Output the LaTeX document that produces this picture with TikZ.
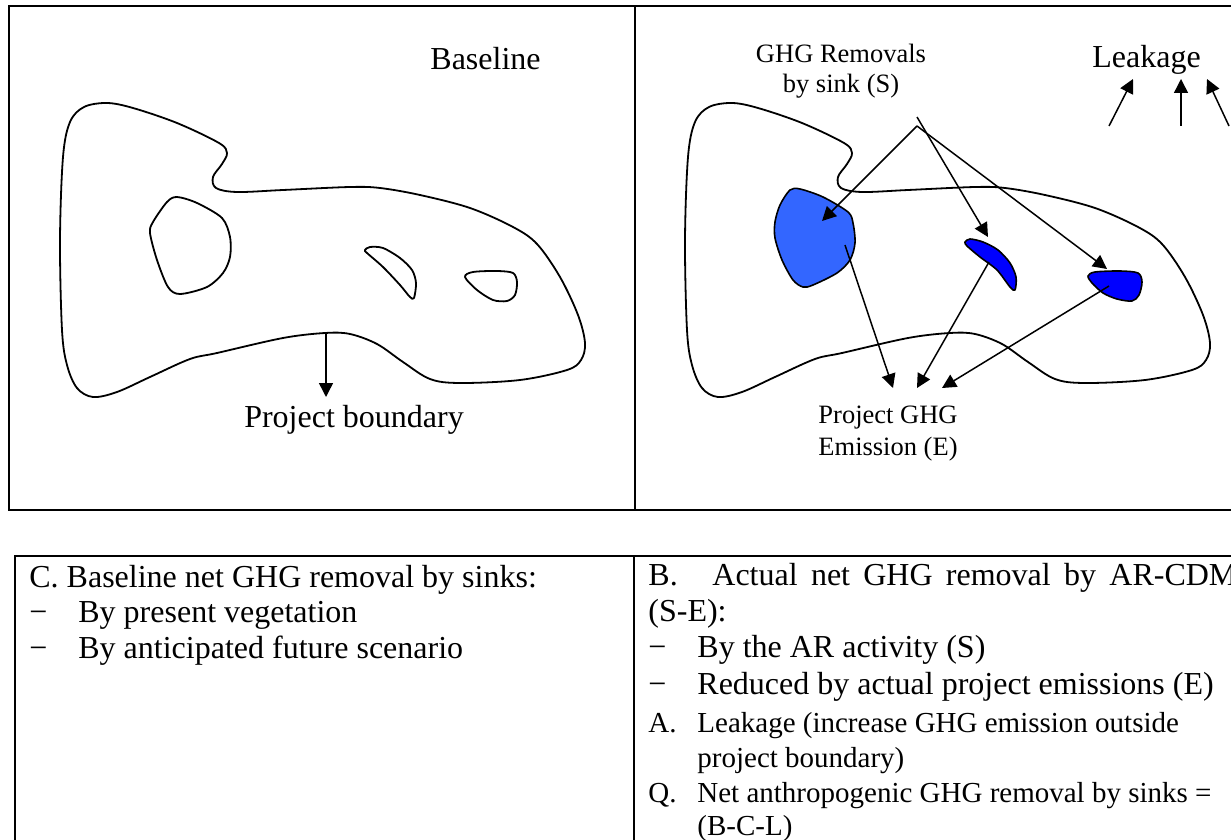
\documentclass[tikz,border=0pt]{standalone}
\usepackage{fontspec}
\setmainfont{Liberation Serif}
\usetikzlibrary{arrows.meta}

\begin{document}
\begin{tikzpicture}[
		x=0.5pt, y=-0.5pt,
		frame/.style={line width=0.9pt},
		contour/.style={line width=0.9pt, line join=round},
		patch/.style={draw, line width=0.8pt, line join=round},
		flow/.style={line width=0.75pt, -{Triangle[length=7pt,width=7pt]}},
		bigtext/.style={inner sep=0pt, anchor=base, font=\fontsize{16}{19}\selectfont},
		smalltext/.style={inner sep=0pt, anchor=base, font=\fontsize{13.25}{15}\selectfont},
		listtext/.style={inner sep=0pt, anchor=base west, font=\fontsize{14.5}{17}\selectfont},
		boundary/.pic={
			\draw[contour] plot[smooth cycle, tension=0.55] coordinates {
				(107,103) (133,108) (177,123) (219,143) (227,153) (222,164) (213,177)
				(216,188) (237,192) (283,190) (350,187) (380,188) (420,195) (470,208)
				(513,227) (537,244) (560,277) (578,315) (585,343) (581,360) (567,370)
				(520,380) (460,383) (430,379) (403,362) (377,344) (350,334) (325,333)
				(283,338) (217,353) (190,359) (150,377) (117,392) (93,397) (77,388)
				(67,365) (62,330) (60,240) (63,157) (70,122) (84,107)};
		},
	]
		\useasboundingbox (0,0) rectangle (1231,840);
		\clip (0,0) rectangle (1231,840);

		% frames
		\draw[frame] (1250,6) -- (9,6) -- (9,510) -- (1250,510);
		\draw[frame] (635,6) -- (635,510);
		\draw[frame] (1250,556) -- (15,556) -- (15,860);
		\draw[frame] (634,556) -- (634,860);

		% baseline panel
		\pic at (0,0) {boundary};
		\draw[contour] plot[smooth cycle] coordinates {
			(177,197) (197,203) (222,218) (230,237) (230,257) (223,273) (207,287)
			(180,294) (168,287) (157,260) (150,233) (153,222) (167,202)};
		\draw[contour] plot[smooth cycle, tension=0.5] coordinates {
			(365,250) (370,247) (383,248) (400,258) (412,270) (416,283) (414,298)
			(410,297) (400,285) (383,267) (367,253)};
		\draw[contour] plot[smooth cycle] coordinates {
			(465,277) (473,272) (497,271) (513,273) (517,282) (515,295) (507,301)
			(493,300) (477,290)};

		\node (baseline) [bigtext, anchor=base west] at (430,70) {Baseline};
		\node (boundary) [bigtext] at (354,427) {Project boundary};
		\coordinate (edge) at (326,333);
		\coordinate (edgeend) at (326,397);
		\draw[flow] (edge) -- (edgeend);

		% project panel
		\pic at (625,0) {boundary};
		\draw[patch, fill={rgb,255:red,51;green,102;blue,255}] plot[smooth cycle] coordinates {
			(790,190) (800,189) (823,197) (848,212) (853,223) (855,243) (850,260)
			(837,273) (813,285) (803,287) (793,280) (782,260) (775,238) (775,222) (780,205)};
		\draw[patch, fill={rgb,255:red,0;green,0;blue,255}] plot[smooth cycle, tension=0.5] coordinates {
			(965,242) (970,239) (983,242) (998,250) (1010,263) (1016,277) (1015,290)
			(1010,287) (997,270) (980,257) (967,246)};
		\draw[patch, fill={rgb,255:red,0;green,0;blue,255}] plot[smooth cycle] coordinates {
			(1088,276) (1095,272) (1120,271) (1138,273) (1142,282) (1139,295) (1132,301)
			(1117,299) (1103,293) (1092,283)};

		\node (removals) [smalltext] at (841,63) {GHG Removals};
		\node (removals2) [smalltext] at (841,93) {by sink (S)};
		\node (emission) [smalltext] at (888,423) {Project GHG};
		\node (emission2) [smalltext] at (888,455) {Emission (E)};
		\node (leakage) [bigtext, anchor=base west] at (1092,68) {Leakage};

		\coordinate (fork) at (917,126);
		\coordinate (forktop) at (917,117);
		\coordinate (sinka) at (822,221);
		\coordinate (sinkb) at (988,237);
		\coordinate (sinkc) at (1107,269);
		\draw[flow] (fork) -- (sinka);
		\draw[flow] (forktop) -- (sinkb);
		\draw[flow] (fork) -- (sinkc);

		\coordinate (srca) at (845,245);
		\coordinate (srcb) at (989,262);
		\coordinate (srcc) at (1109,286);
		\coordinate (emita) at (893,388);
		\coordinate (emitb) at (917,388);
		\coordinate (emitc) at (942,388);
		\draw[flow] (srca) -- (emita);
		\draw[flow] (srcb) -- (emitb);
		\draw[flow] (srcc) -- (emitc);

		\coordinate (leaka) at (1109,126);
		\coordinate (leakb) at (1181,126);
		\coordinate (leakc) at (1229,126);
		\draw[flow] (leaka) -- (1133,79);
		\draw[flow] (leakb) -- (1181,79);
		\draw[flow] (leakc) -- (1207,79);

		% table below
		\node (ctitle) [bigtext, anchor=base west] at (29,587) {C. Baseline net GHG removal by sinks:};
		\node (cdash) [bigtext, anchor=base west] at (29,622) {−};
		\node (citem) [bigtext, anchor=base west] at (78,622) {By present vegetation};
		\node (cdash2) [bigtext, anchor=base west] at (29,658) {−};
		\node (citem2) [bigtext, anchor=base west] at (78,658) {By anticipated future scenario};

		\node (bnum) [bigtext, anchor=base west] at (648,585) {B.};
		\node (btitle) [bigtext, anchor=base west] at (712,585) {\makebox[262.5pt][s]{Actual net GHG removal by AR-CDM}};
		\node (btail) [bigtext, anchor=base west] at (648,621) {(S-E):};
		\node (bdash) [bigtext, anchor=base west] at (648,657) {−};
		\node (bitem) [bigtext, anchor=base west] at (697,657) {By the AR activity (S)};
		\node (bdash2) [bigtext, anchor=base west] at (648,694) {−};
		\node (bitem2) [bigtext, anchor=base west] at (697,694) {Reduced by actual project emissions (E)};
		\node (anum) [listtext] at (648,732) {A.};
		\node (aitem) [listtext] at (697,732) {Leakage (increase GHG emission outside};
		\node (aitem2) [listtext] at (697,767) {project boundary)};
		\node (qnum) [listtext] at (648,802) {Q.};
		\node (qitem) [listtext] at (697,802) {Net anthropogenic GHG removal by sinks =};
		\node (qitem2) [listtext] at (697,835) {(B-C-L)};
\end{tikzpicture}
\end{document}
